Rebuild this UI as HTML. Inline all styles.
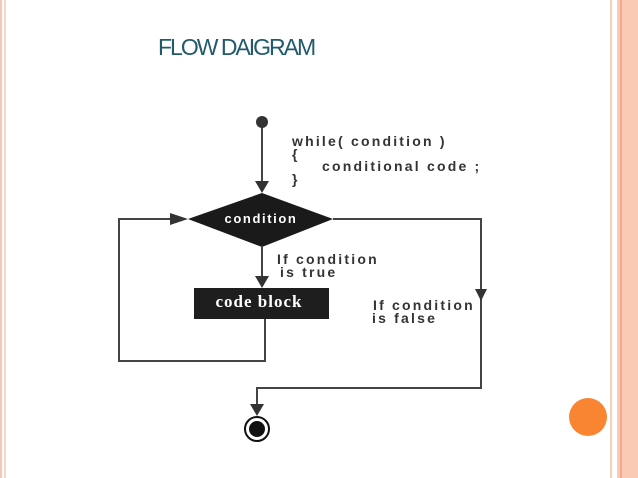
<!DOCTYPE html>
<html><head><style>
body{margin:0;width:638px;height:478px;overflow:hidden;background:#fff;position:relative;font-family:"Liberation Sans",sans-serif}
.t{position:absolute;left:158px;top:34px;font-size:23px;color:#215a6c;letter-spacing:-2px}
</style></head><body>
<div style="position:absolute;left:0;top:0;width:2px;height:478px;background:#f6c8b5"></div>
<div style="position:absolute;left:4px;top:0;width:2px;height:478px;background:#f9d6c8"></div>
<div style="position:absolute;left:610px;top:0;width:2px;height:478px;background:#f8cfbd"></div>
<div style="position:absolute;left:617px;top:0;width:21px;height:478px;background:#f9c9b4"></div>
<div style="position:absolute;left:620px;top:0;width:2px;height:478px;background:#f1aa8c"></div>
<div class="t">FLOW DAIGRAM</div>
<div style="position:absolute;left:569px;top:398px;width:38px;height:38px;border-radius:50%;background:#f98432"></div>
<svg width="638" height="478" style="position:absolute;left:0;top:0" font-family="Liberation Sans, sans-serif" font-weight="bold">
<g stroke="#444" stroke-width="2" fill="none">
<line x1="262" y1="122" x2="262" y2="185"/>
<polyline points="265,319 265,361 119,361 119,219 175,219"/>
<polyline points="333,219 481,219 481,388 257,388 257,408"/>
<line x1="262" y1="247" x2="262" y2="278"/>
</g>
<g fill="#333">
<circle cx="262" cy="122" r="6"/>
<polygon points="255,181 269,181 262,193"/>
<polygon points="170,213 170,225 188,219"/>
<polygon points="255,276 269,276 262,288"/>
<polygon points="475,289 487,289 481,301"/>
<polygon points="250,404 264,404 257,416"/>
<polygon points="188,219 262,193 333,219 262,247" fill="#1a1a1a"/>
<rect x="194" y="288" width="135" height="31" fill="#1e1e1e"/>
</g>
<circle cx="257" cy="429" r="12" fill="#fff" stroke="#111" stroke-width="2"/>
<circle cx="257" cy="429" r="8" fill="#111"/>
<text x="261" y="223" fill="#fff" font-size="13" letter-spacing="1.6" text-anchor="middle">condition</text>
<text x="259" y="307" fill="#fff" font-size="17" letter-spacing="1" text-anchor="middle" font-family="Liberation Serif, serif">code block</text>
<g fill="#333" font-size="14" letter-spacing="2.2">
<text x="292" y="146">while( condition )</text>
<text x="292" y="159">{</text>
<text x="322" y="171">conditional code ;</text>
<text x="292" y="184">}</text>
<text x="277" y="264">If condition</text>
<text x="280" y="277">is true</text>
<text x="373" y="310">If condition</text>
<text x="372" y="323">is false</text>
</g>
</svg>
</body></html>
